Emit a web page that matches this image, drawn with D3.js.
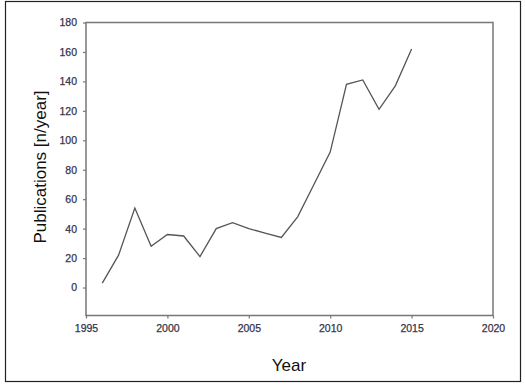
<!DOCTYPE html>
<html>
<head>
<meta charset="utf-8">
<script src="https://cdn.jsdelivr.net/npm/d3@7"></script>
<style>
  body { margin: 0; background: #fff; }
  svg { display: block; }
</style>
</head>
<body>
<svg id="chart" width="525" height="386"></svg>
<script>
const years = [1996, 1997, 1998, 1999, 2000, 2001, 2002, 2003, 2004, 2005, 2006, 2007, 2008, 2009, 2010, 2011, 2012, 2013, 2014, 2015];
const publications = [3, 22, 54, 28, 36, 35, 21, 40, 44, 40, 37, 34, 48, 70, 92, 138, 141, 121, 137, 162];
const xTicks = [1995, 2000, 2005, 2010, 2015, 2020];
const yTicks = [0, 20, 40, 60, 80, 100, 120, 140, 160, 180];

const svg = d3.select('#chart');

// outer frame
svg.append('rect')
  .attr('x', 5.5).attr('y', 1.5)
  .attr('width', 515).attr('height', 380)
  .attr('fill', 'none')
  .attr('stroke', '#222')
  .attr('stroke-width', 1.2);

const plotLeft = 86, plotRight = 493, plotTop = 22.5, plotBottom = 315.5;

const x = d3.scaleLinear().domain([1995, 2020]).range([plotLeft, plotRight]);
const y = d3.scaleLinear().domain([-19, 180]).range([plotBottom, plotTop]);

// plot box
svg.append('rect')
  .attr('x', plotLeft).attr('y', plotTop)
  .attr('width', plotRight - plotLeft).attr('height', plotBottom - plotTop)
  .attr('fill', 'none')
  .attr('stroke', '#777')
  .attr('stroke-width', 1.5);

const xAxis = svg.append('g')
  .attr('transform', `translate(0,${plotBottom})`)
  .call(d3.axisBottom(x).tickValues(xTicks).tickFormat(d3.format('d')).tickSize(3).tickPadding(6));

const yAxis = svg.append('g')
  .attr('transform', `translate(${plotLeft},0)`)
  .call(d3.axisLeft(y).tickValues(yTicks).tickSize(3).tickPadding(6));

[xAxis, yAxis].forEach(g => {
  g.select('.domain').remove();
  g.selectAll('.tick line').attr('stroke', '#777').attr('stroke-width', 1.2);
  g.selectAll('.tick text')
    .attr('fill', '#34344a')
    .attr('stroke', '#34344a')
    .attr('stroke-width', 0.25)
    .style('font-family', 'Liberation Sans, Arial, sans-serif')
    .style('font-size', '10.5px');
});

const line = d3.line()
  .x((d, i) => x(years[i]))
  .y(d => y(d));

svg.append('path')
  .datum(publications)
  .attr('d', line)
  .attr('fill', 'none')
  .attr('stroke', '#555')
  .attr('stroke-width', 1.3)
  .attr('stroke-linejoin', 'miter');

svg.append('text')
  .attr('x', 289).attr('y', 371)
  .attr('text-anchor', 'middle')
  .style('font-family', 'Liberation Sans, Arial, sans-serif')
  .style('font-size', '17px')
  .attr('fill', '#111')
  .text('Year');

svg.append('text')
  .attr('transform', 'translate(46,167) rotate(-90)')
  .attr('text-anchor', 'middle')
  .style('font-family', 'Liberation Sans, Arial, sans-serif')
  .style('font-size', '17px')
  .attr('fill', '#111')
  .text('Publications [n/year]');
</script>
</body>
</html>
